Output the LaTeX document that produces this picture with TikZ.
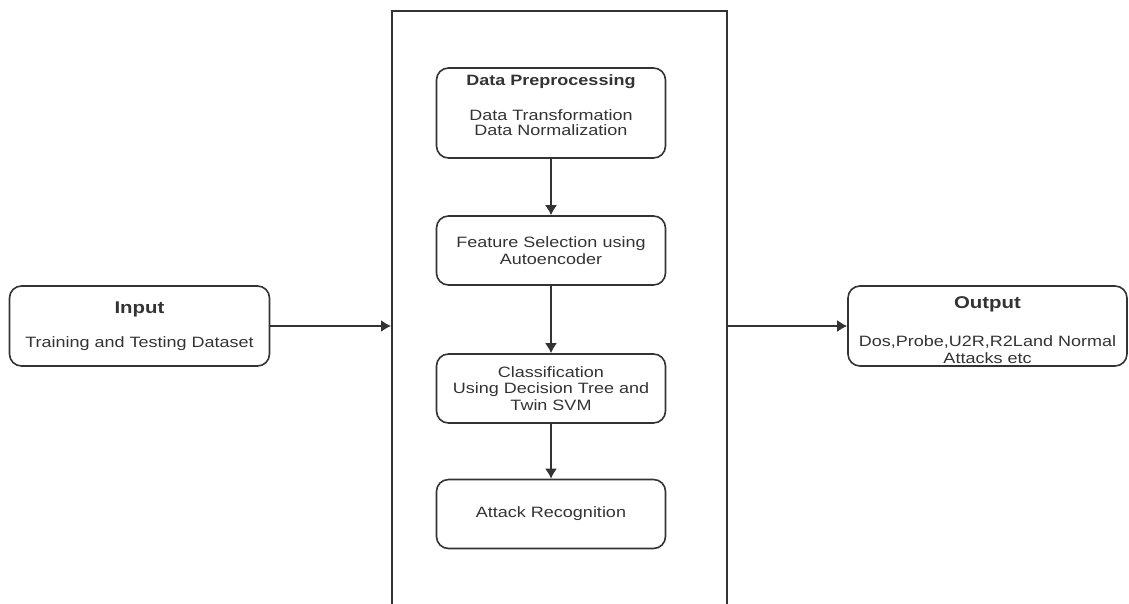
\documentclass[tikz,border=0pt]{standalone}
\usepackage{fontspec}
\setmainfont{Liberation Sans}[FakeStretch=1.2]
\usetikzlibrary{arrows.meta}

\newcommand{\boxfont}{\fontsize{15}{16.5}\selectfont}
\newcommand{\headfont}{\fontsize{17}{20}\selectfont\bfseries}

\begin{document}
\begin{tikzpicture}[> = {Latex[length = 10pt, width = 12pt]}, x = 1pt, y = -1pt,
	stage/.style = {draw = black!80, line width = 1.6pt, rounded corners = 12pt,
		align = center, text = black!80, font = \boxfont},
	flow/.style = {->, draw = black!80, line width = 1.6pt}]

	% Definitions
	
	\def\W{229}		% Width of the stages inside the panel
	\def\H{69}		% Height of the stages inside the panel
	\def\X{551}		% Centre line of the panel
	
	\useasboundingbox (0, 0) rectangle (1129, 603);
	
	% Draw panel
	
	\node [draw = black!80, line width = 1.6pt, minimum width = 335, minimum height = 620,
		anchor = north west] (panel) at (391, 10) {};
	
	% Draw input and output
	
	\node [stage, minimum width = 260, minimum height = 80] (input) at (139.5, 326)
		{{\headfont Input}\\[18pt] Training and Testing Dataset};
	\node [stage, minimum width = 279, minimum height = 80, inner ysep = 3pt,
		text height = 74pt, text depth = 0pt] (output) at (987.5, 326)
		{{\headfont Output}\\[22pt] Dos,Probe,U2R,R2Land Normal\\ Attacks etc};
	
	% Draw stages
	
	\node [stage, minimum width = \W, minimum height = 90, text depth = 15pt] (prep) at (\X, 113)
		{\textbf{Data Preprocessing}\\[18pt] Data Transformation\\[-1pt] Data Normalization};
	\node [stage, minimum width = \W, minimum height = \H] (feature) at (\X, 250.5)
		{Feature Selection using\\ Autoencoder};
	\node [stage, minimum width = \W, minimum height = \H] (classify) at (\X, 388.5)
		{Classification\\ Using Decision Tree and\\ Twin SVM};
	\node [stage, minimum width = \W, minimum height = \H] (attack) at (\X, 514)
		{Attack Recognition};
	
	% Draw connections
	
	\draw [flow] (input.east) -- (input.east -| panel.west);
	\draw [flow] (panel.east |- output.west) -- (output.west);
	\foreach \a/\b in {prep/feature, feature/classify, classify/attack}
		\draw [flow] (\a) -- (\b);
	
\end{tikzpicture}
\end{document}
